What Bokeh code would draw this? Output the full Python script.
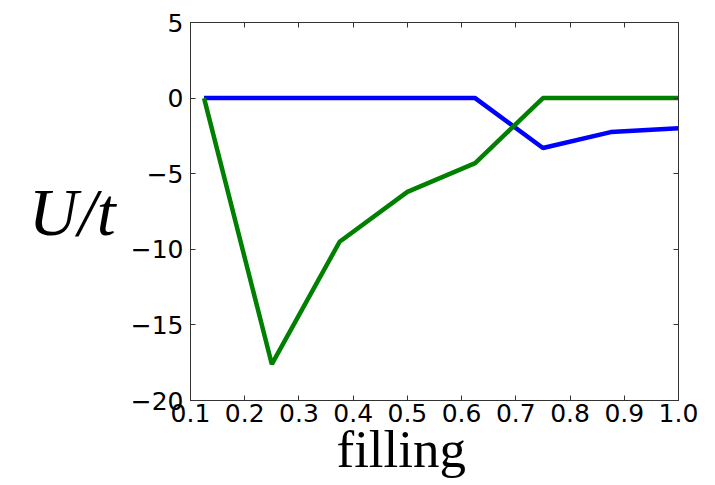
from bokeh.plotting import figure
from bokeh.models import Range1d, FixedTicker, LinearAxis, Title
from bokeh.embed import file_html
from bokeh.resources import INLINE

filling = [0.125, 0.25, 0.375, 0.5, 0.625, 0.75, 0.875, 1.0]
u_blue = [0.0, 0.0, 0.0, 0.0, 0.0, -3.3, -2.25, -2.0]
u_green = [0.0, -17.6, -9.5, -6.2, -4.3, 0.0, 0.0, 0.0]

x_ticks = [0.1, 0.2, 0.3, 0.4, 0.5, 0.6, 0.7, 0.8, 0.9, 1.0]
x_tick_labels = ["0.1", "0.2", "0.3", "0.4", "0.5", "0.6", "0.7", "0.8", "0.9", "1.0"]
y_ticks = [-20, -15, -10, -5, 0, 5]
y_tick_labels = ["\u221220", "\u221215", "\u221210", "\u22125", "0", "5"]

p = figure(width=715, height=485, output_backend="svg", toolbar_location=None,
           x_range=Range1d(0.1, 1.0), y_range=Range1d(-20, 5),
           frame_width=488, frame_height=378,
           min_border_left=190, min_border_right=37, min_border_top=22, min_border_bottom=85)
p.grid.visible = False
p.outline_line_color = "#333333"
p.outline_line_width = 1
p.background_fill_color = "white"
p.border_fill_color = "white"

p.line(filling, u_blue, line_color="#0000ff", line_width=4.5)
p.line(filling, u_green, line_color="#008000", line_width=4.5)

def style(ax, ticks, labels):
    ax.ticker = FixedTicker(ticks=ticks)
    ax.major_label_overrides = {t: l for t, l in zip(ticks, labels)}
    ax.major_tick_in = 5
    ax.major_tick_out = 0
    ax.minor_tick_line_color = None
    ax.major_tick_line_color = "#333333"
    ax.axis_line_color = "#333333"
    ax.major_label_text_font = "DejaVu Sans"
    ax.major_label_text_font_size = "25px"
    ax.major_label_text_color = "black"

style(p.xaxis[0], x_ticks, x_tick_labels)
style(p.yaxis[0], y_ticks, y_tick_labels)
p.xaxis[0].major_label_standoff = 3
p.yaxis[0].major_label_standoff = 7

p.yaxis[0].axis_label = "U/t"
p.yaxis[0].axis_label_orientation = "horizontal"
p.yaxis[0].axis_label_text_font = "Liberation Serif"
p.yaxis[0].axis_label_text_font_style = "italic"
p.yaxis[0].axis_label_text_font_size = "68px"
p.yaxis[0].axis_label_text_color = "black"
p.yaxis[0].axis_label_standoff = 12

top = LinearAxis()
style(top, x_ticks, x_tick_labels)
top.major_label_text_font_size = "0px"
top.major_label_text_color = None
top.major_label_standoff = 0
p.add_layout(top, "above")
right = LinearAxis()
style(right, y_ticks, y_tick_labels)
right.major_label_text_font_size = "0px"
right.major_label_text_color = None
right.major_label_standoff = 0
p.add_layout(right, "right")

xlabel = Title(text="filling", align="left", offset=146, text_font="Liberation Serif",
               text_font_size="53px", text_font_style="normal", text_color="black",
               standoff=-13)
p.add_layout(xlabel, "below")

open("out.html", "w").write(file_html(p, INLINE))
